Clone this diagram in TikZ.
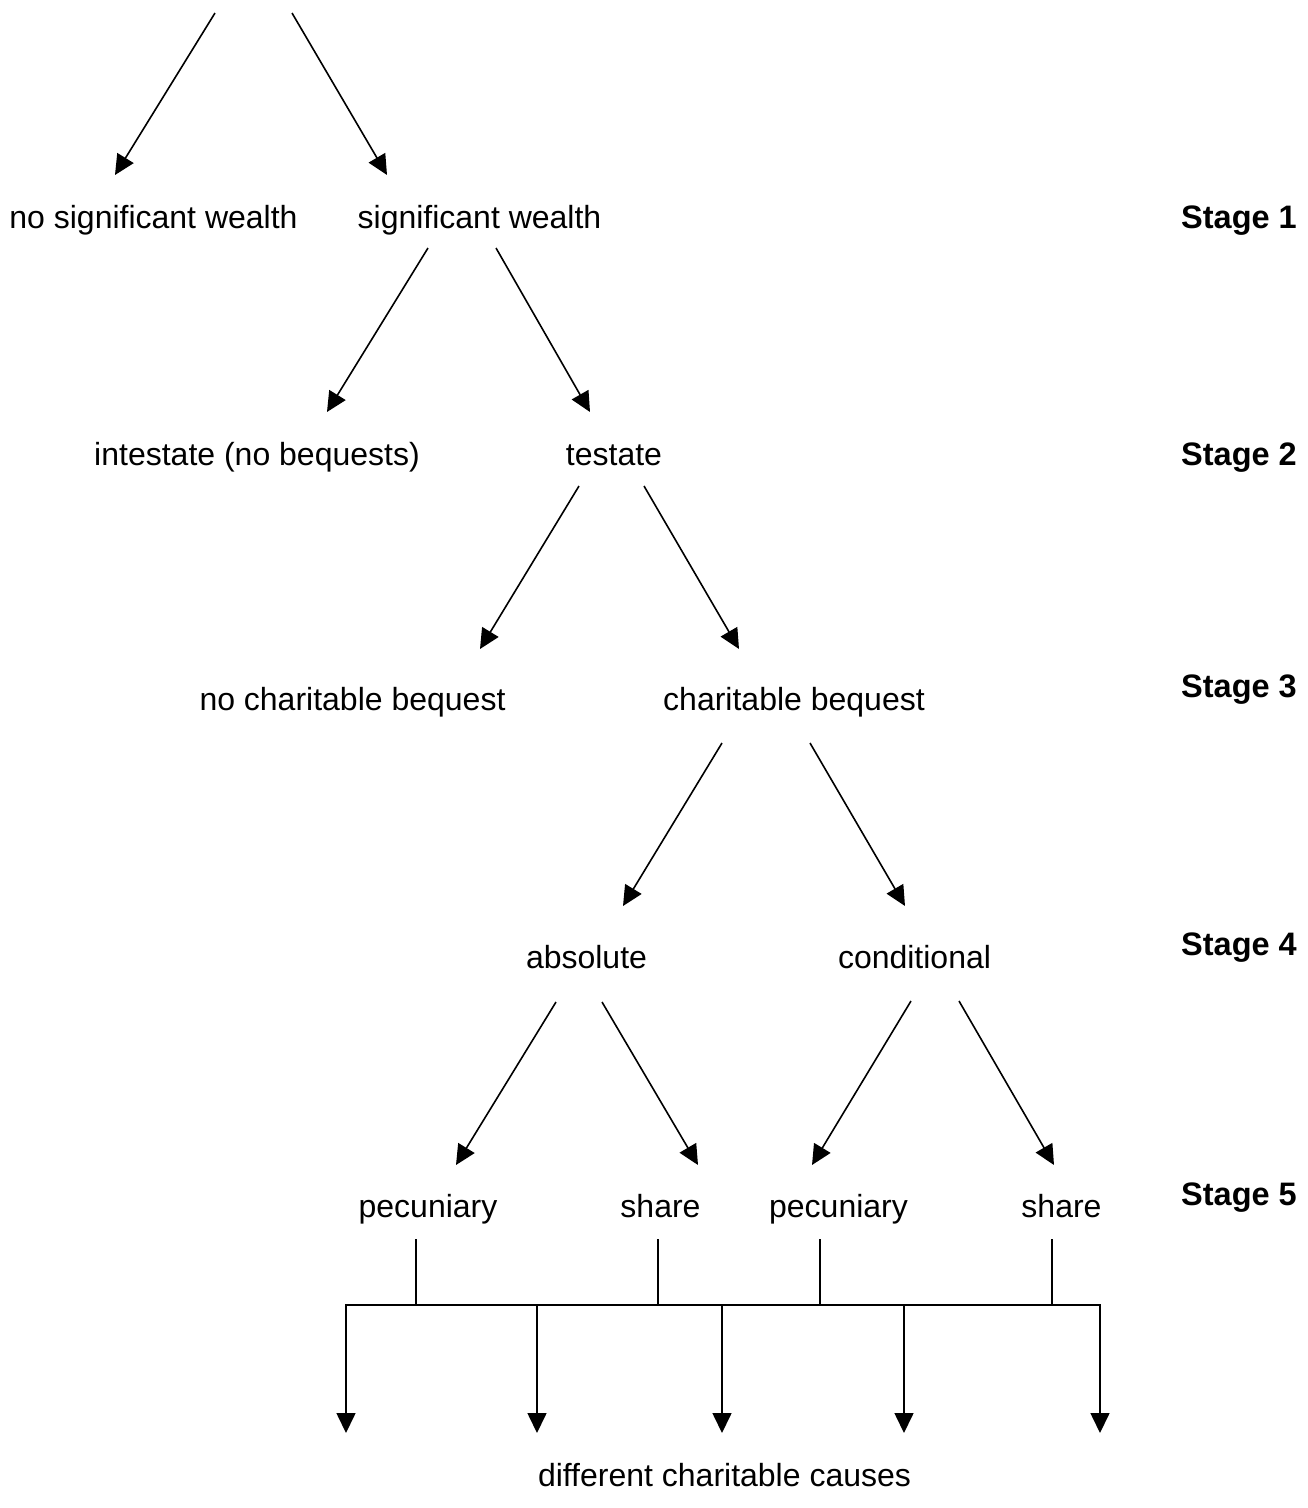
\documentclass[tikz,border=0pt]{standalone}
\usepackage{fontspec}
\setmainfont{Liberation Sans}
\usetikzlibrary{arrows.meta,calc}
\begin{document}
\begin{tikzpicture}[x=1pt,y=-1pt,
  lbl/.style={inner sep=0pt,anchor=base,font=\fontsize{32}{38}\selectfont},
  stagelbl/.style={inner sep=0pt,anchor=base west,font=\fontsize{32.5}{38}\selectfont\bfseries},
  arr/.style={line width=1.6pt,-{Triangle[length=20pt,width=19pt]}},
  ln/.style={line width=1.6pt}]
\useasboundingbox[fill=white] (0,0) rectangle (1308,1508);
% text nodes
\node[lbl] (nsw) at (153.5,228) {no significant wealth};
\node[lbl] (sw) at (479.5,228) {significant wealth};
\node[lbl] (int) at (257,465) {intestate (no bequests)};
\node[lbl] (tes) at (614,465) {testate};
\node[lbl] (ncb) at (352.5,710) {no charitable bequest};
\node[lbl] (cb) at (794,710) {charitable bequest};
\node[lbl] (abs) at (586.5,968) {absolute};
\node[lbl] (con) at (914.5,968) {conditional};
\node[lbl] (pa) at (428,1217) {pecuniary};
\node[lbl] (sa) at (660.5,1217) {share};
\node[lbl] (pc) at (838.5,1217) {pecuniary};
\node[lbl] (sc) at (1061.5,1217) {share};
\node[lbl] (causes) at (724.5,1486) {different charitable causes};
% stage labels
\node[stagelbl] (s1) at (1181,228) {Stage 1};
\node[stagelbl] (s2) at (1181,465) {Stage 2};
\node[stagelbl] (s3) at (1181,697) {Stage 3};
\node[stagelbl] (s4) at (1181,955) {Stage 4};
\node[stagelbl] (s5) at (1181,1205) {Stage 5};
% top free ends
\coordinate (topL) at (215,13);
\coordinate (topR) at (292,13);
\draw[arr] (topL) -- ($(nsw.base)+(-38.5,-53)$);
\draw[arr] (topR) -- ($(sw.base)+(-92.5,-53)$);
% stage 1 -> 2
\draw[arr] ($(sw.base)+(-51.5,20)$) -- ($(int.base)+(70,-53)$);
\draw[arr] ($(sw.base)+(16.5,20)$) -- ($(tes.base)+(-24,-53)$);
% stage 2 -> 3
\draw[arr] ($(tes.base)+(-35,21)$) -- ($(ncb.base)+(127.5,-61)$);
\draw[arr] ($(tes.base)+(30,21)$) -- ($(cb.base)+(-55,-61)$);
% stage 3 -> 4
\draw[arr] ($(cb.base)+(-72,33)$) -- ($(abs.base)+(36.5,-62)$);
\draw[arr] ($(cb.base)+(16,33)$) -- ($(con.base)+(-9.5,-62)$);
% stage 4 -> 5
\draw[arr] ($(abs.base)+(-30.5,34)$) -- ($(pa.base)+(28,-52)$);
\draw[arr] ($(abs.base)+(15.5,34)$) -- ($(sa.base)+(37.5,-52)$);
\draw[arr] ($(con.base)+(-3.5,33)$) -- ($(pc.base)+(-26.5,-52)$);
\draw[arr] ($(con.base)+(44.5,33)$) -- ($(sc.base)+(-7.5,-52)$);
% bus
\coordinate (b1) at (346,1305);
\coordinate (b2) at (537,1305);
\coordinate (b3) at (722,1305);
\coordinate (b4) at (904,1305);
\coordinate (b5) at (1100,1305);
\draw[ln] ($(pa.base)+(-12,22)$) -- ($(pa.base)+(-12,88)$);
\draw[ln] ($(sa.base)+(-2.5,22)$) -- ($(sa.base)+(-2.5,88)$);
\draw[ln] ($(pc.base)+(-18.5,22)$) -- ($(pc.base)+(-18.5,88)$);
\draw[ln] ($(sc.base)+(-9.5,22)$) -- ($(sc.base)+(-9.5,88)$);
\draw[ln,line cap=rect] (b1) -- (b5);
\coordinate (d1) at (346,1433);
\coordinate (d2) at (537,1433);
\coordinate (d3) at (722,1433);
\coordinate (d4) at (904,1433);
\coordinate (d5) at (1100,1433);
\draw[arr] (b1) -- (d1);
\draw[arr] (b2) -- (d2);
\draw[arr] (b3) -- (d3);
\draw[arr] (b4) -- (d4);
\draw[arr] (b5) -- (d5);
\end{tikzpicture}
\end{document}
